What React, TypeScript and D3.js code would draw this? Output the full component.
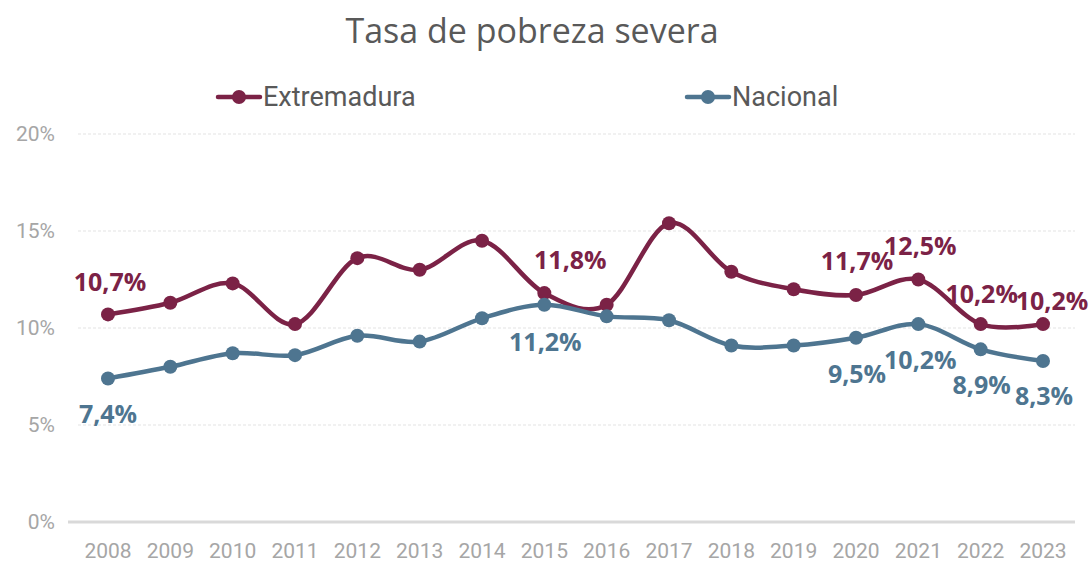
import * as d3 from "d3";
import { useEffect, useRef } from "react";

// datos
const years = [2008, 2009, 2010, 2011, 2012, 2013, 2014, 2015, 2016, 2017, 2018, 2019, 2020, 2021, 2022, 2023];
const extremadura = [10.7, 11.3, 12.3, 10.2, 13.6, 13.0, 14.5, 11.8, 11.2, 15.4, 12.9, 12.0, 11.7, 12.5, 10.2, 10.2];
const nacional = [7.4, 8.0, 8.7, 8.6, 9.6, 9.3, 10.5, 11.2, 10.6, 10.4, 9.1, 9.1, 9.5, 10.2, 8.9, 8.3];
const yTicks = [0, 5, 10, 15, 20];

// etiquetas visibles: año -> desplazamiento del texto
const extLabels = [
  { year: 2008, dx: 2, dy: -23 },
  { year: 2015, dx: 26, dy: -24 },
  { year: 2020, dx: 1, dy: -25 },
  { year: 2021, dx: 2, dy: -25 },
  { year: 2022, dx: 1, dy: -21 },
  { year: 2023, dx: 9, dy: -14 },
];
const nacLabels = [
  { year: 2008, dx: 0, dy: 45 },
  { year: 2015, dx: 1, dy: 46 },
  { year: 2020, dx: 1, dy: 45 },
  { year: 2021, dx: 2, dy: 45 },
  { year: 2022, dx: 1, dy: 45 },
  { year: 2023, dx: 1, dy: 44 },
];

const series = [
  { name: "Extremadura", values: extremadura, color: "#7B2246", labels: extLabels },
  { name: "Nacional", values: nacional, color: "#4E7590", labels: nacLabels },
];

const W = 1091;
const H = 563;

const fmt = (v: number) => v.toFixed(1).replace(".", ",") + "%";

export default function App() {
  const ref = useRef<SVGSVGElement>(null);

  useEffect(() => {
    const svg = d3.select(ref.current);
    svg.selectAll("*").remove();

    const x = d3.scalePoint<number>().domain(years).range([108, 1043]);
    const y = d3.scaleLinear().domain([0, 20]).range([522, 134]);

    // título
    svg.append("text")
      .attr("x", 532).attr("y", 43)
      .attr("text-anchor", "middle")
      .style("font-family", "'Open Sans', sans-serif")
      .style("font-size", "34px")
      .style("fill", "#595959")
      .text("Tasa de pobreza severa");

    // rejilla
    svg.append("g")
      .selectAll("line")
      .data(yTicks.filter(t => t > 0))
      .enter()
      .append("line")
      .attr("x1", 78).attr("x2", 1075)
      .attr("y1", d => y(d)).attr("y2", d => y(d))
      .style("stroke", "#e3e3e3")
      .style("stroke-width", 1)
      .style("stroke-dasharray", "3,2");

    // eje X
    svg.append("line")
      .attr("x1", 68).attr("x2", 1075)
      .attr("y1", y(0)).attr("y2", y(0))
      .style("stroke", "#d9d9d9")
      .style("stroke-width", 3);

    svg.append("g")
      .selectAll("text")
      .data(yTicks)
      .enter()
      .append("text")
      .attr("x", 55).attr("y", d => y(d) + 7)
      .attr("text-anchor", "end")
      .style("font-family", "'Roboto', sans-serif")
      .style("font-size", "21px")
      .style("fill", "#a6a6a6")
      .text(d => d + "%");

    svg.append("g")
      .selectAll("text")
      .data(years)
      .enter()
      .append("text")
      .attr("x", d => x(d)!).attr("y", 558)
      .attr("text-anchor", "middle")
      .style("font-family", "'Roboto', sans-serif")
      .style("font-size", "21px")
      .style("fill", "#a6a6a6")
      .text(d => d);

    const line = d3.line<number>()
      .x((_, i) => x(years[i])!)
      .y(d => y(d))
      .curve(d3.curveCardinal.tension(0));

    series.forEach(s => {
      const g = svg.append("g");
      g.append("path")
        .attr("d", line(s.values))
        .style("fill", "none")
        .style("stroke", s.color)
        .style("stroke-width", 4.5)
        .style("stroke-linejoin", "round");

      g.selectAll("circle")
        .data(s.values)
        .enter()
        .append("circle")
        .attr("cx", (_, i) => x(years[i])!)
        .attr("cy", d => y(d))
        .attr("r", 7)
        .style("fill", s.color);

      g.selectAll("text.lbl")
        .data(s.labels)
        .enter()
        .append("text")
        .attr("class", "lbl")
        .attr("x", d => x(d.year)! + d.dx)
        .attr("y", d => y(s.values[years.indexOf(d.year)]) + d.dy)
        .attr("text-anchor", "middle")
        .style("font-family", "'Open Sans', sans-serif")
        .style("font-weight", "bold")
        .style("font-size", "25px")
        .style("fill", s.color)
        .text(d => fmt(s.values[years.indexOf(d.year)]));
    });

    // leyenda
    const legend = [
      { s: series[0], x: 218 },
      { s: series[1], x: 687 },
    ];
    legend.forEach(l => {
      const g = svg.append("g");
      g.append("line")
        .attr("x1", l.x).attr("x2", l.x + 42)
        .attr("y1", 97).attr("y2", 97)
        .style("stroke", l.s.color)
        .style("stroke-width", 4.5)
        .style("stroke-linecap", "round");
      g.append("circle")
        .attr("cx", l.x + 21).attr("cy", 97).attr("r", 7)
        .style("fill", l.s.color);
      g.append("text")
        .attr("x", l.x + 45).attr("y", 106)
        .style("font-family", "'Roboto', sans-serif")
        .style("font-size", "27px")
        .style("fill", "#595959")
        .text(l.s.name);
    });
  }, []);

  return (
    <svg ref={ref} width={W} height={H} style={{ position: "absolute", left: 0, top: 0, background: "#fff" }} />
  );
}
